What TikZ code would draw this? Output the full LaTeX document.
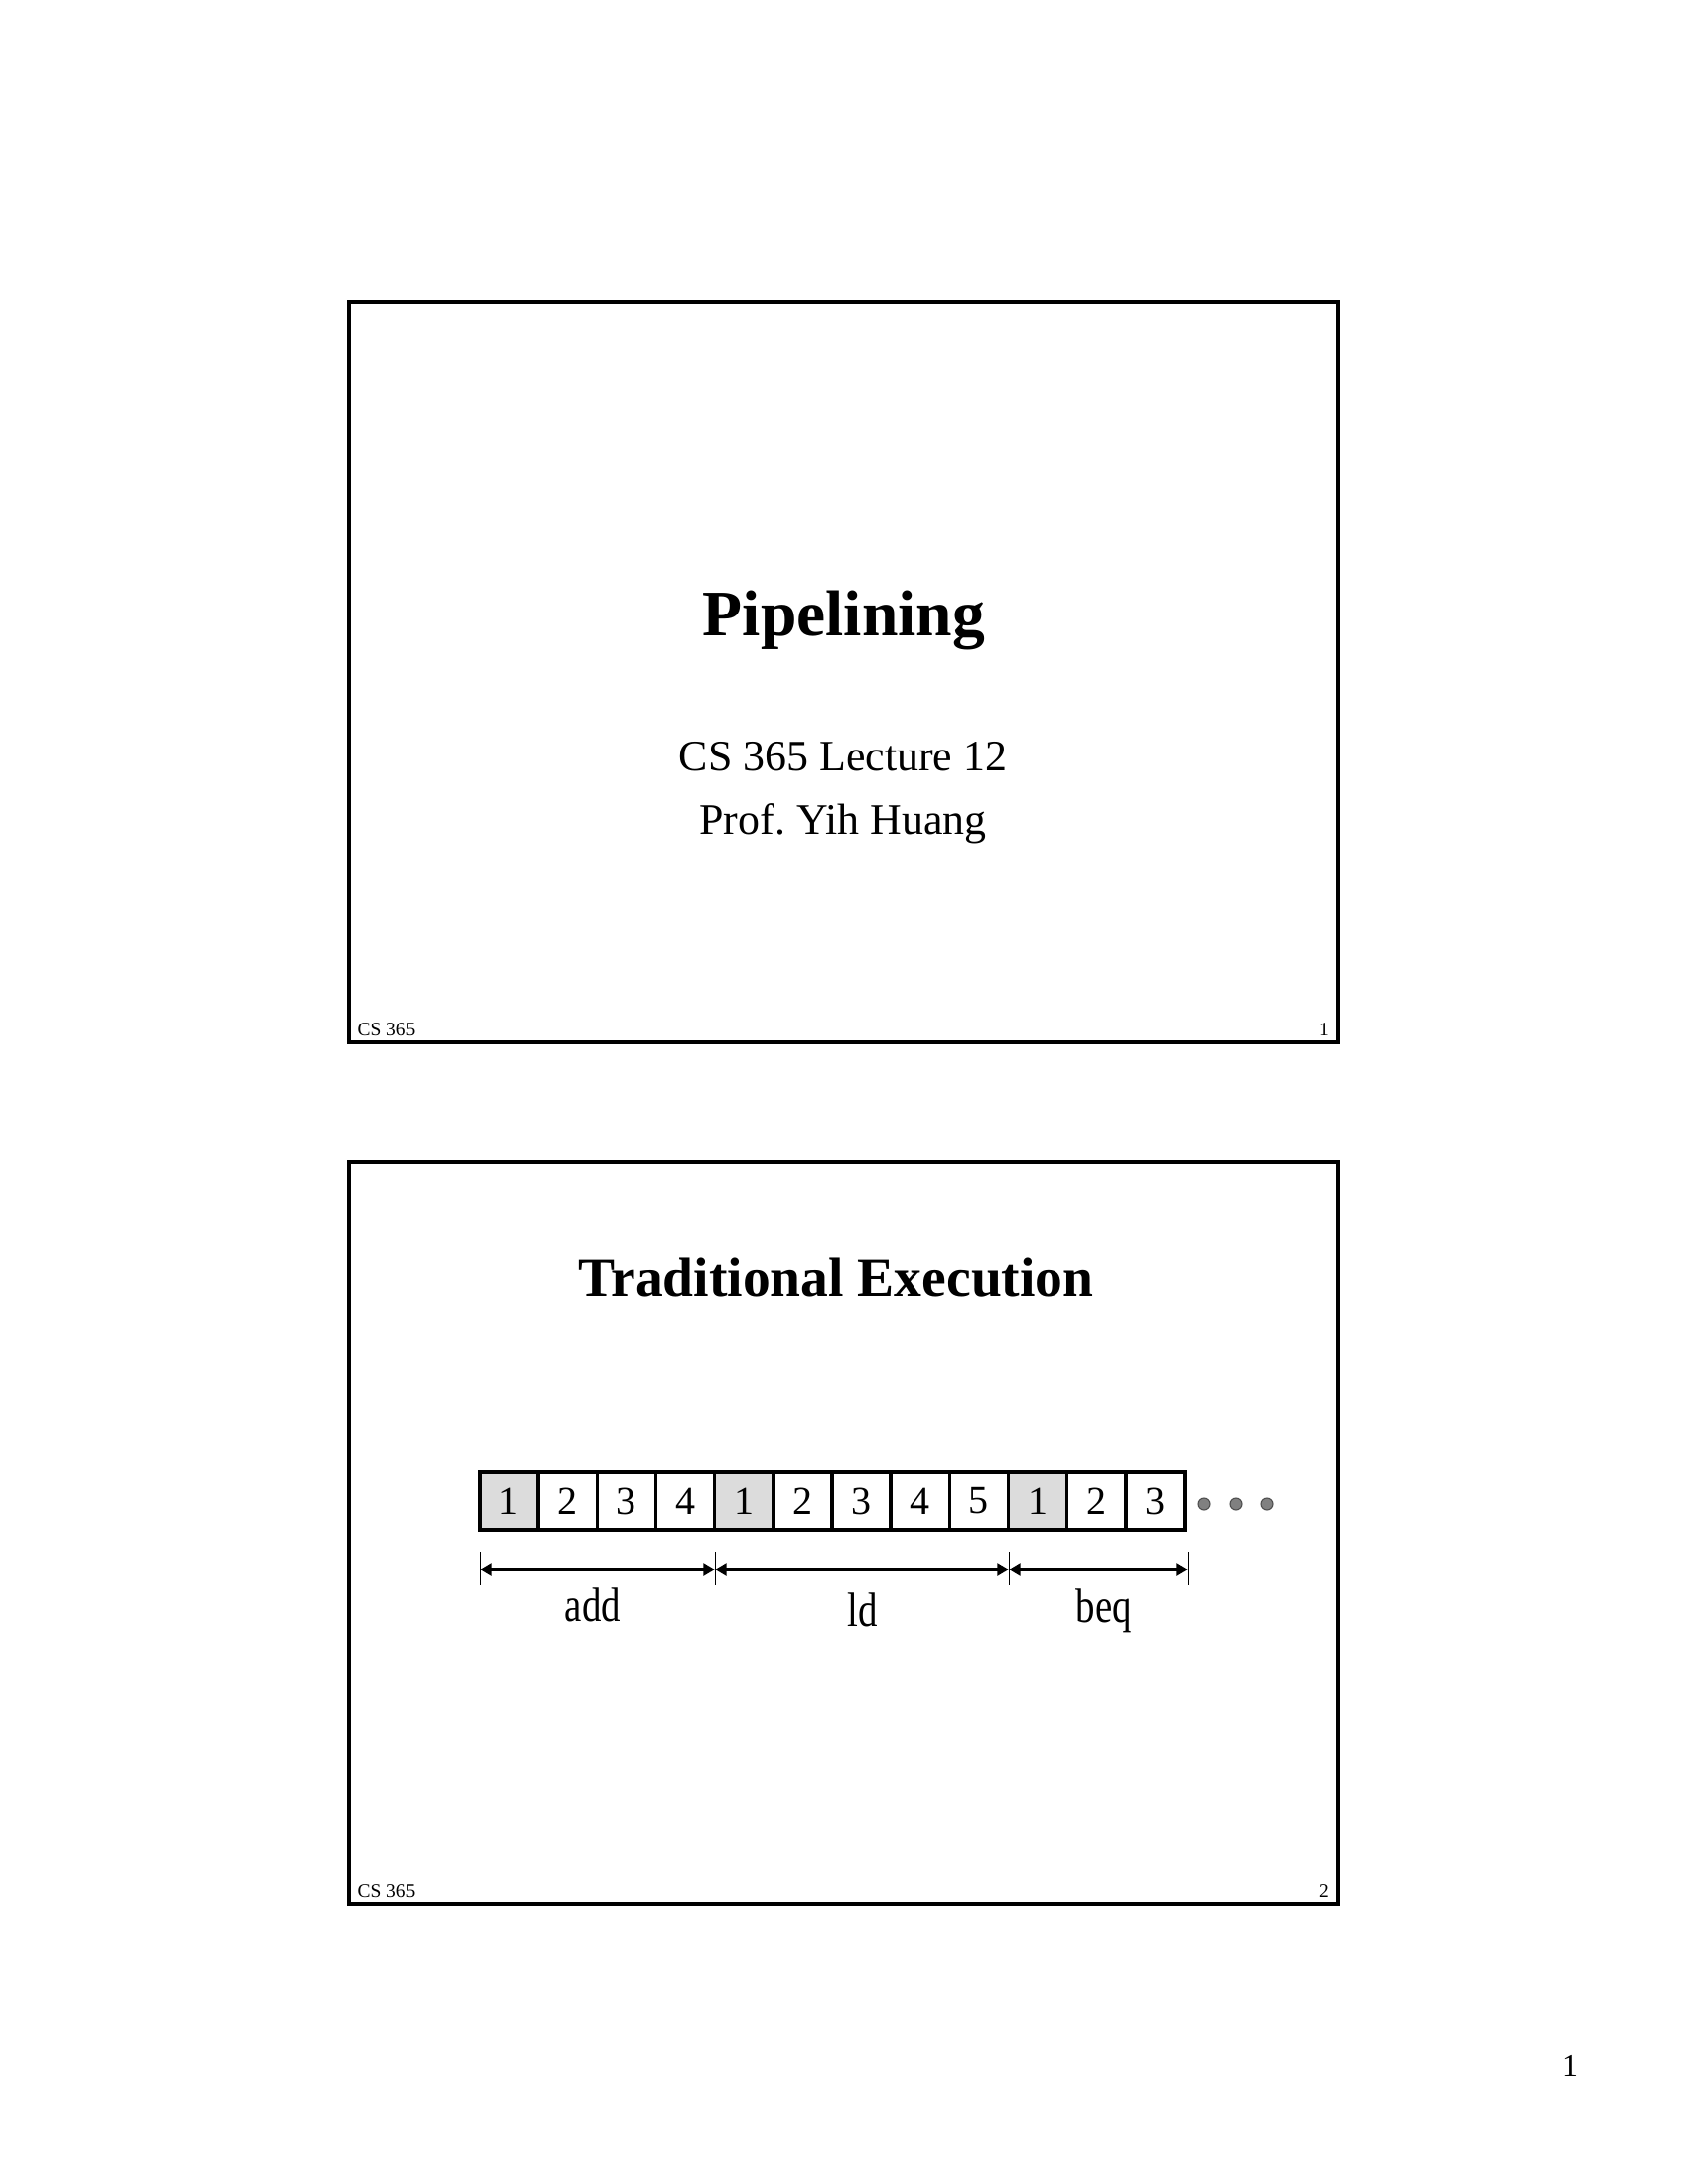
\documentclass[tikz,border=0pt]{standalone}
\usepackage{fontspec}
\setmainfont{Liberation Serif}
\usepackage{graphicx}
\usetikzlibrary{arrows.meta}
\definecolor{cellgray}{HTML}{DCDCDC}
\definecolor{dotgray}{HTML}{808080}
\definecolor{dotedge}{HTML}{505050}
\frenchspacing
\begin{document}
\begin{tikzpicture}[x=0.36pt,y=-0.36pt,
  frame/.style={draw=black,line width=1.44pt},
  txt/.style={inner sep=0pt,anchor=base},
  cellbox/.style={draw=black,line width=1.25pt,minimum width=21.3pt,minimum height=20.88pt,inner sep=0pt,
    font=\fontsize{14.4}{17}\selectfont},
  firstcell/.style={cellbox,fill=cellgray},
  tickline/.style={draw=black,line width=0.35pt},
  dimarrow/.style={draw=black,line width=1.3pt,{Triangle[length=4.2pt,width=4.6pt]}-{Triangle[length=4.2pt,width=4.6pt]}},
  dotc/.style={circle,fill=dotgray,draw=dotedge,line width=0.4pt,minimum size=4.3pt,inner sep=0pt},
  lbl/.style={txt,font=\fontsize{17.5}{21}\selectfont},
  foot/.style={txt,font=\fontsize{7}{8}\selectfont}]
\useasboundingbox (0,0) rectangle (1700,2200);
\fill[white] (0,0) rectangle (1700,2200);

% ---- slide 1 ----
\draw[frame] (351,304) rectangle (1348,1050);
\node[txt,font=\fontsize{23.6}{28}\selectfont\bfseries] (t1) at (850,640) {Pipelining};
\node[txt,font=\fontsize{15.8}{19}\selectfont] (s1) at (849,776) {CS 365 Lecture 12};
\node[txt,font=\fontsize{15.8}{19}\selectfont] (s2) at (849,840) {Prof.\ Yih Huang};
\node[foot,anchor=base west] (f1) at (360,1043) {CS 365};
\node[foot] (n1) at (1333,1043) {1};

% ---- slide 2 ----
\draw[frame] (351,1171) rectangle (1348,1918);
\node[txt,font=\fontsize{20}{24}\selectfont\bfseries] (t2) at (842,1305) {Traditional Execution};

\foreach \i/\d in {1/1,2/2,3/3,4/4,5/1,6/2,7/3,8/4,9/5,10/1,11/2,12/3}{
  \pgfmathsetmacro{\cx}{483+59.17*(\i-0.5)}
  \ifnum\i=1 \node[firstcell] (c\i) at (\cx,1512) {\d};
  \else\ifnum\i=5 \node[firstcell] (c\i) at (\cx,1512) {\d};
  \else\ifnum\i=10 \node[firstcell] (c\i) at (\cx,1512) {\d};
  \else \node[cellbox] (c\i) at (\cx,1512) {\d};
  \fi\fi\fi
}

\node[dotc] (d1) at (1213,1515) {};
\node[dotc] (d2) at (1245,1515) {};
\node[dotc] (d3) at (1276,1515) {};

\draw[tickline] (483,1563) -- (483,1597);
\draw[tickline] (720,1563) -- (720,1597);
\draw[tickline] (1016,1563) -- (1016,1597);
\draw[tickline] (1196,1563) -- (1196,1597);

\coordinate (a0) at (483,1581);
\coordinate (a1) at (720,1581);
\coordinate (a2) at (1016,1581);
\coordinate (a3) at (1196,1581);
\draw[dimarrow] (a0) -- (a1);
\draw[dimarrow] (a1) -- (a2);
\draw[dimarrow] (a2) -- (a3);

\node[lbl] (l1) at (597,1633) {\scalebox{0.8}[1]{add}};
\node[lbl] (l2) at (869,1638) {\scalebox{0.8}[1]{ld}};
\node[lbl] (l3) at (1112,1634) {\scalebox{0.8}[1]{beq}};

\node[foot,anchor=base west] (f2) at (360,1911) {CS 365};
\node[foot] (n2) at (1333,1911) {2};

% page number
\node[txt,font=\fontsize{11.5}{14}\selectfont] (pg) at (1581,2091) {1};
\end{tikzpicture}
\end{document}
